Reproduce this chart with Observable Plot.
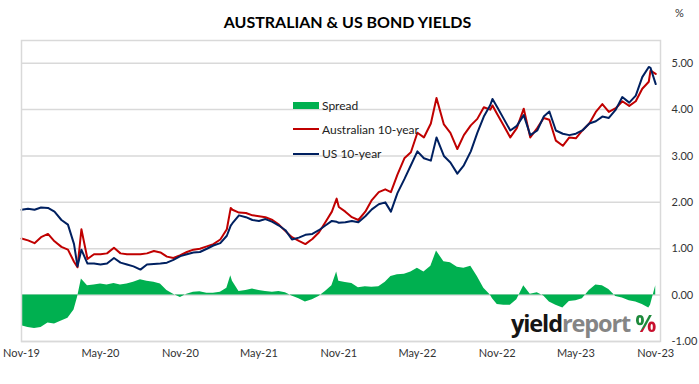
<!DOCTYPE html>
<html><head><meta charset="utf-8">
<script src="https://cdn.jsdelivr.net/npm/d3@7"></script>
<script src="https://cdn.jsdelivr.net/npm/@observablehq/plot@0.6"></script>
<style>
body{margin:0;background:#fff;font-family:Lato,sans-serif;}
#wrap{position:relative;width:699px;height:384px;overflow:hidden;background:#fff}
#chart{position:absolute;left:0;top:0}
#title{position:absolute;left:0;width:695px;top:12px;text-align:center;font-weight:bold;font-size:16px;font-family:Lato;color:#000}
#pct{position:absolute;left:675px;top:6px;font-size:11px;font-family:Lato;color:#333}
#legend{position:absolute;left:293px;top:93px;font-size:12px;font-family:Lato;color:#222}
.item{display:flex;align-items:center;height:24.3px}
.sw{width:26px;margin-right:3px}
#logo{position:absolute;left:511px;top:307px;font-family:"Open Sans";font-weight:bold;font-size:23.5px;line-height:normal;letter-spacing:-1.1px;white-space:nowrap}
#logo .y{color:#151515}
#logo .r{color:#858585}
#logo .p{display:inline-block;background:linear-gradient(135deg,#1e8a3c 0%,#1e8a3c 55%,#c8102e 55%,#c8102e 100%);-webkit-background-clip:text;background-clip:text;color:transparent;margin-left:5px;letter-spacing:0}
</style>
</head><body>
<div id="wrap">
<div id="chart"></div>
<div id="title">AUSTRALIAN &amp; US BOND YIELDS</div>
<div id="pct">%</div>
<div id="legend">
 <div class="item"><div class="sw" style="height:7px;background:#00b050"></div><span>Spread</span></div>
 <div class="item"><div class="sw" style="height:2px;background:#c00000"></div><span>Australian 10-year</span></div>
 <div class="item"><div class="sw" style="height:2px;background:#002060"></div><span>US 10-year</span></div>
</div>
<div id="logo"><span class="y">yield</span><span class="r">report</span><span class="p">%</span></div>
</div>
<script>
const dates = ["2019-11-01","2019-11-16","2019-12-01","2019-12-16","2020-01-01","2020-01-16","2020-02-01","2020-02-16","2020-03-01","2020-03-09","2020-03-18","2020-04-01","2020-04-16","2020-05-01","2020-05-16","2020-06-01","2020-06-16","2020-07-01","2020-07-16","2020-08-01","2020-08-16","2020-09-01","2020-09-16","2020-10-01","2020-10-16","2020-11-01","2020-11-16","2020-12-01","2020-12-16","2021-01-01","2021-01-16","2021-02-01","2021-02-16","2021-02-25","2021-03-01","2021-03-16","2021-04-01","2021-04-16","2021-05-01","2021-05-16","2021-06-01","2021-06-16","2021-07-01","2021-07-16","2021-08-01","2021-08-16","2021-09-01","2021-09-16","2021-10-01","2021-10-16","2021-10-27","2021-11-01","2021-11-16","2021-12-01","2021-12-16","2022-01-01","2022-01-16","2022-02-01","2022-02-16","2022-03-01","2022-03-16","2022-04-01","2022-04-16","2022-05-01","2022-05-16","2022-06-01","2022-06-14","2022-07-01","2022-07-16","2022-08-01","2022-08-16","2022-09-01","2022-09-16","2022-10-01","2022-10-16","2022-10-21","2022-11-01","2022-11-16","2022-12-01","2022-12-16","2023-01-01","2023-01-16","2023-02-01","2023-02-16","2023-03-01","2023-03-16","2023-04-01","2023-04-16","2023-05-01","2023-05-16","2023-06-01","2023-06-16","2023-07-01","2023-07-16","2023-08-01","2023-08-16","2023-09-01","2023-09-16","2023-10-01","2023-10-16","2023-10-20","2023-11-01"];
const australian10y = [1.22,1.18,1.12,1.25,1.32,1.16,1.04,0.98,0.72,0.60,1.42,0.78,0.88,0.88,0.90,1.02,0.90,0.88,0.88,0.88,0.90,0.95,0.92,0.83,0.80,0.86,0.93,0.98,1.00,1.05,1.10,1.20,1.42,1.88,1.84,1.78,1.77,1.72,1.70,1.68,1.62,1.52,1.38,1.25,1.17,1.10,1.21,1.35,1.57,1.80,2.08,1.90,1.80,1.68,1.62,1.80,2.05,2.22,2.28,2.22,2.60,2.95,3.08,3.50,3.40,3.70,4.25,3.68,3.50,3.15,3.45,3.66,3.80,4.05,4.00,4.09,3.90,3.65,3.40,3.60,4.02,3.40,3.60,3.82,3.78,3.33,3.22,3.40,3.38,3.55,3.70,3.95,4.12,3.95,4.03,4.18,4.08,4.18,4.45,4.60,4.84,4.77];
const us10y = [1.84,1.86,1.84,1.89,1.88,1.80,1.62,1.52,1.10,0.62,0.98,0.68,0.68,0.66,0.68,0.80,0.70,0.66,0.62,0.55,0.66,0.67,0.68,0.70,0.76,0.84,0.88,0.92,0.93,1.00,1.07,1.12,1.28,1.50,1.55,1.72,1.68,1.62,1.60,1.64,1.58,1.50,1.40,1.20,1.24,1.30,1.32,1.40,1.50,1.60,1.58,1.56,1.57,1.60,1.57,1.70,1.85,1.96,2.00,1.80,2.20,2.50,2.80,3.10,2.95,2.90,3.40,3.00,2.86,2.62,2.80,3.10,3.50,3.85,4.10,4.23,4.05,3.80,3.55,3.65,3.88,3.45,3.55,3.85,3.96,3.55,3.48,3.45,3.48,3.55,3.70,3.75,3.85,3.82,4.00,4.27,4.15,4.30,4.70,4.92,4.90,4.55];
const spread = [-0.66,-0.70,-0.72,-0.70,-0.60,-0.62,-0.56,-0.50,-0.32,-0.05,0.35,0.20,0.22,0.24,0.22,0.25,0.22,0.24,0.28,0.33,0.30,0.28,0.24,0.10,0.02,-0.05,0.02,0.06,0.07,0.04,0.04,0.06,0.15,0.42,0.30,0.08,0.10,0.13,0.10,0.08,0.06,0.08,0.05,-0.02,-0.08,-0.15,-0.10,-0.03,0.08,0.20,0.50,0.30,0.27,0.25,0.16,0.18,0.17,0.18,0.28,0.40,0.44,0.45,0.50,0.58,0.50,0.62,0.95,0.72,0.70,0.60,0.58,0.62,0.40,0.15,0.00,-0.08,-0.20,-0.22,-0.22,-0.10,0.20,0.02,0.05,-0.02,-0.15,-0.22,-0.28,-0.14,-0.12,-0.08,0.10,0.22,0.20,0.12,-0.03,-0.06,-0.12,-0.15,-0.20,-0.28,-0.22,0.20];
const yTicks = [-1,0,1,2,3,4,5];
const xTickLabels = ["2019-11-01","2020-05-01","2020-11-01","2021-05-01","2021-11-01","2022-05-01","2022-11-01","2023-05-01","2023-11-01"];

const data = dates.map((d,i)=>({date:new Date(d), au:australian10y[i], us:us10y[i], spread:spread[i]}));
const xTicks = xTickLabels.map(d=>new Date(d));

const plot = Plot.plot({
  width:699, height:384,
  marginTop:40, marginBottom:43, marginLeft:21, marginRight:39,
  x:{type:"utc", domain:[new Date("2019-11-01"), new Date("2023-11-12")]},
  y:{domain:[-1,5.49]},
  style:{fontFamily:"Lato", fontSize:"11px", color:"#333", background:"transparent"},
  marks:[
    Plot.ruleY(yTicks,{stroke:"#d9d9d9", strokeWidth:1.5}),
    Plot.areaY(data,{x:"date", y:"spread", fill:"#00b050"}),
    Plot.lineY(data,{x:"date", y:"au", stroke:"#c00000", strokeWidth:2}),
    Plot.lineY(data,{x:"date", y:"us", stroke:"#002060", strokeWidth:2}),
    Plot.frame({stroke:"#d9d9d9", strokeWidth:1.5}),
    Plot.axisY(yTicks,{anchor:"right", tickSize:0, tickPadding:11, tickFormat:d=>d.toFixed(2), textAnchor:"start"}),
    Plot.axisX(xTicks,{anchor:"bottom", tickSize:0, tickPadding:8, tickFormat:d3.utcFormat("%b-%y")})
  ]
});
document.getElementById("chart").appendChild(plot);
</script>
</body></html>
